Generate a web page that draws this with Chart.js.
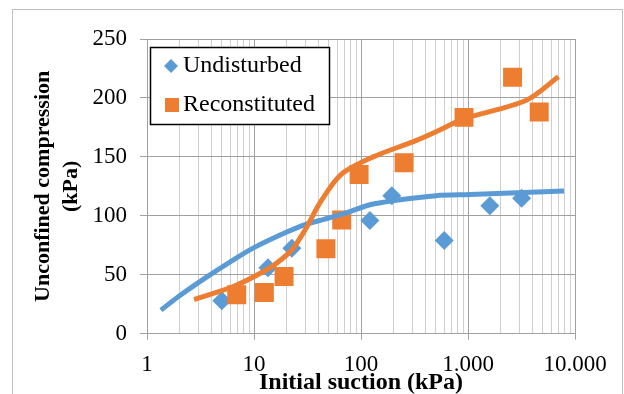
<!DOCTYPE html>
<html>
<head>
<meta charset="utf-8">
<script src="https://cdn.jsdelivr.net/npm/chart.js@4.4.1/dist/chart.umd.min.js"></script>
<style>
  html, body { margin: 0; padding: 0; background: #fff; }
  canvas { display: block; }
</style>
</head>
<body>
<canvas id="suctionChart" width="624" height="394"></canvas>
<script>
// values (suction in kPa, strength in kPa)
const undisturbedX = [5, 13.5, 22.6, 121, 194, 600, 1600, 3170];
const undisturbedY = [28, 56, 72.5, 96, 117, 79, 108.5, 115];

const reconstitutedX = [6.9, 12.5, 19.1, 47, 66, 96, 253, 918, 2610, 4630];
const reconstitutedY = [33, 35, 48.5, 72, 96.5, 135, 145, 183.5, 217.5, 188];

// trend lines
const undisturbedLineX = [1.35, 2, 3.6, 6, 10, 20, 31, 45, 70, 130, 500, 1050, 7900];
const undisturbedLineY = [20, 32, 48, 61, 73, 86, 93, 97, 102, 110, 117, 118, 121];

const reconstitutedLineX = [2.75, 6.4, 13, 18, 23, 30, 42, 65, 130, 330, 550, 900, 3500, 7000];
const reconstitutedLineY = [29, 40, 54, 63, 72, 88, 112, 135, 150, 164, 173, 182, 198, 218];

const seriesNames = ["Undisturbed", "Reconstituted"];
const xTickValues = [1, 10, 100, 1000, 10000];
const xTickLabels = ["1", "10", "100", "1.000", "10.000"];

const blue = "#5B9BD5";
const orange = "#ED7D31";
const serif = "'Liberation Serif', 'Times New Roman', serif";

function toPoints(xs, ys) {
    return xs.map((x, i) => ({ x: x, y: ys[i] }));
}

function isDecade(v) {
    return xTickValues.indexOf(v) !== -1;
}

// 1..9 per decade, like the Excel log grid
const logGrid = [];
for (let d = 1; d < 10000; d *= 10) {
    for (let m = 1; m < 10; m++) logGrid.push(m * d);
}
logGrid.push(10000);

const frame = {
    id: "frame",
    beforeDraw(chart) {
        const ctx = chart.ctx;
        ctx.save();
        ctx.fillStyle = "#fff";
        ctx.fillRect(0, 0, chart.width, chart.height);
        ctx.strokeStyle = "#c0c0c0";
        ctx.lineWidth = 1;
        ctx.strokeRect(12.5, 9.5, 610, 400);
        ctx.restore();
    }
};

const legendBox = {
    id: "legendBox",
    afterDraw(chart) {
        const ctx = chart.ctx;
        ctx.save();
        ctx.fillStyle = "#fff";
        ctx.fillRect(150.5, 47.5, 179, 77);
        ctx.strokeStyle = "#000";
        ctx.lineWidth = 1.5;
        ctx.strokeRect(150.5, 47.5, 179, 77);

        // diamond
        ctx.fillStyle = blue;
        ctx.beginPath();
        ctx.moveTo(171, 59);
        ctx.lineTo(178, 66);
        ctx.lineTo(171, 73);
        ctx.lineTo(164, 66);
        ctx.closePath();
        ctx.fill();

        // square
        ctx.fillStyle = orange;
        ctx.fillRect(165, 98, 14, 14);

        ctx.fillStyle = "#000";
        ctx.font = "24px " + serif;
        ctx.textBaseline = "middle";
        ctx.textAlign = "left";
        ctx.fillText(seriesNames[0], 183, 66);
        ctx.fillText(seriesNames[1], 183, 105);
        ctx.restore();
    }
};

new Chart(document.getElementById("suctionChart"), {
    type: "scatter",
    data: {
        datasets: [
            {
                label: seriesNames[1] + " trend",
                data: toPoints(reconstitutedLineX, reconstitutedLineY),
                showLine: true,
                borderColor: orange,
                borderWidth: 5,
                pointRadius: 0,
                tension: 0.3
            },
            {
                label: seriesNames[0] + " trend",
                data: toPoints(undisturbedLineX, undisturbedLineY),
                showLine: true,
                borderColor: blue,
                borderWidth: 5,
                pointRadius: 0,
                tension: 0.3
            },
            {
                label: seriesNames[1],
                data: toPoints(reconstitutedX, reconstitutedY),
                pointStyle: "rect",
                pointRadius: 13.4,
                pointBorderWidth: 0,
                backgroundColor: orange,
                borderColor: orange
            },
            {
                label: seriesNames[0],
                data: toPoints(undisturbedX, undisturbedY),
                pointStyle: "rectRot",
                pointRadius: 9.5,
                pointBorderWidth: 0,
                backgroundColor: blue,
                borderColor: blue
            }
        ]
    },
    options: {
        responsive: false,
        animation: false,
        layout: { padding: { top: 39, right: 49, left: 0, bottom: 0 } },
        plugins: {
            legend: { display: false },
            tooltip: { enabled: false }
        },
        scales: {
            x: {
                type: "logarithmic",
                min: 1,
                max: 10000,
                afterBuildTicks: s => {
                    s.ticks = logGrid.map(v => ({ value: v, major: isDecade(v) }));
                },
                afterFit: s => { s.height = 60.3; },
                border: { color: "#a0a0a0" },
                grid: {
                    color: c => isDecade(c.tick.value) ? "#a0a0a0" : "#cfcfcf",
                    tickColor: c => isDecade(c.tick.value) ? "#a0a0a0" : "rgba(0,0,0,0)",
                    tickLength: 6
                },
                ticks: {
                    autoSkip: false,
                    maxRotation: 0,
                    padding: 11,
                    color: "#000",
                    font: { family: serif, size: 23 },
                    callback: v => {
                        const i = xTickValues.indexOf(v);
                        return i === -1 ? "" : xTickLabels[i];
                    }
                },
                title: {
                    display: true,
                    text: "Initial suction (kPa)",
                    color: "#000",
                    padding: 0,
                    font: { family: serif, size: 24, weight: "bold", lineHeight: 0.9 }
                }
            },
            y: {
                min: 0,
                max: 250,
                afterFit: s => { s.width = 147; },
                border: { color: "#a0a0a0" },
                grid: { color: "#a0a0a0", tickLength: 7 },
                ticks: {
                    stepSize: 50,
                    padding: 13,
                    color: "#000",
                    font: { family: serif, size: 23 }
                },
                title: {
                    display: true,
                    text: ["Unconfined compression", "(kPa)"],
                    color: "#000",
                    padding: { top: 29.5, bottom: 0 },
                    font: { family: serif, size: 22, weight: "bold", lineHeight: 1.27 }
                }
            }
        }
    },
    plugins: [frame, legendBox]
});
</script>
</body>
</html>
